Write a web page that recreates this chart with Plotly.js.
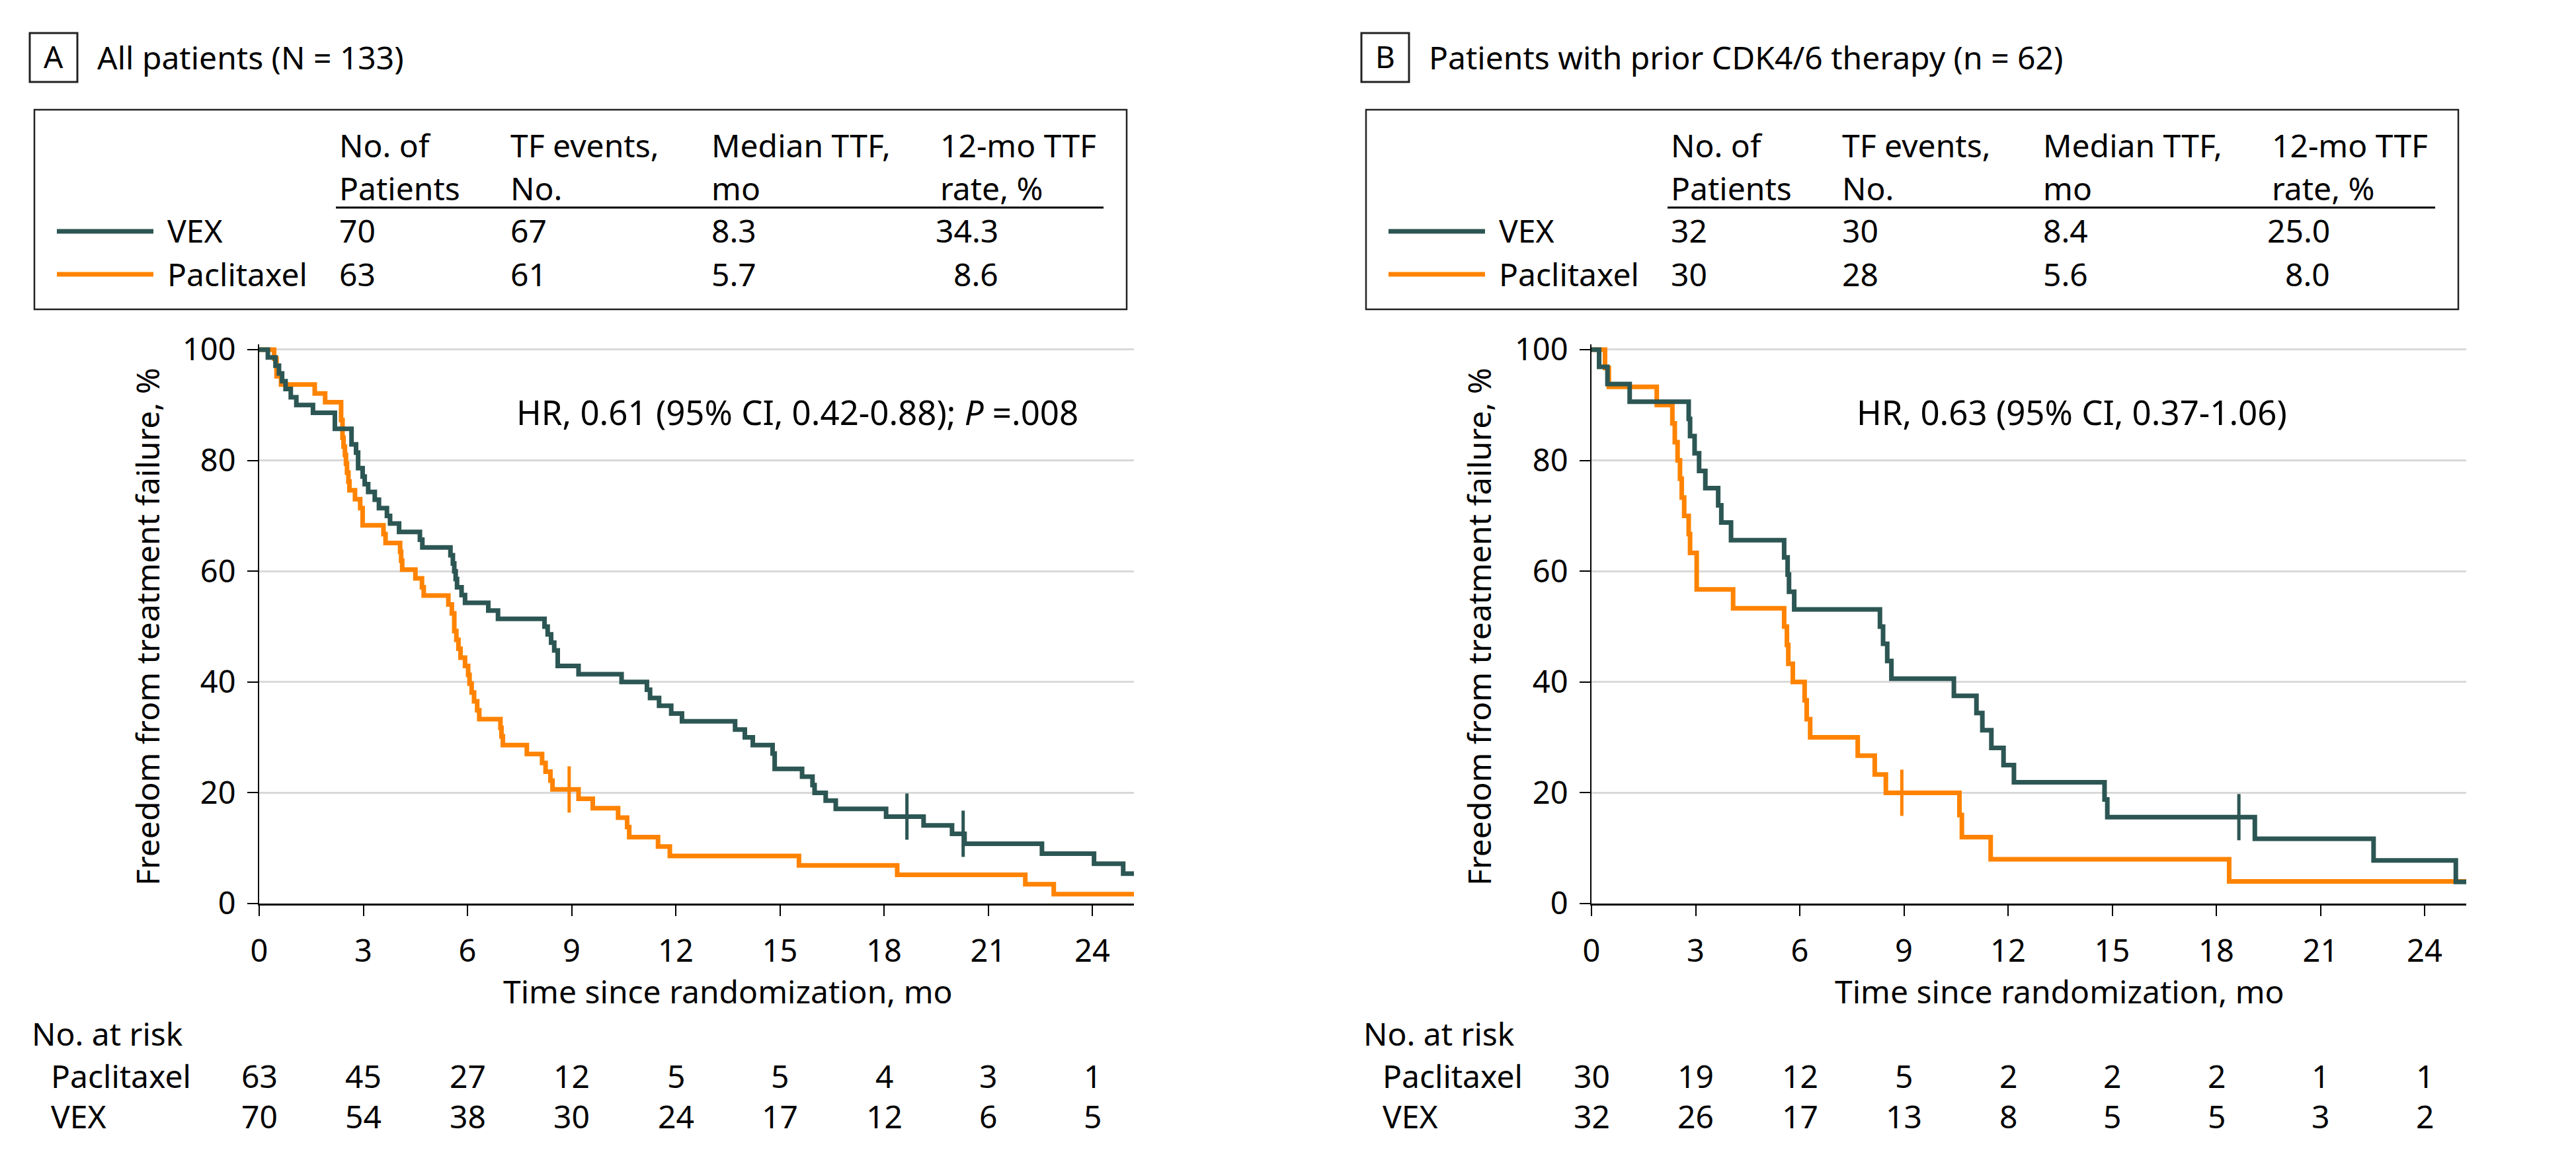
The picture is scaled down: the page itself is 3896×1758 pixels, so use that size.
<!DOCTYPE html>
<html>
<head>
<meta charset="utf-8">
<script src="https://cdn.plot.ly/plotly-3.0.1.min.js"></script>
<style>html,body{margin:0;padding:0;background:#fff;}#chart{width:3896px;height:1758px;}</style>
</head>
<body>
<div id="chart"></div>
<script>
// ---------- data ----------
const monthTicks = [0, 3, 6, 9, 12, 15, 18, 21, 24];
const percentTicks = [0, 20, 40, 60, 80, 100];

// Panel A: all patients
const tA_vex = [0,0.25,0.47,0.57,0.66,0.76,0.91,1.07,1.55,2.18,2.66,2.79,2.85,2.98,3.04,3.14,3.33,3.45,3.68,3.77,4.03,4.63,4.70,5.51,5.58,5.62,5.66,5.70,5.83,5.93,6.60,6.88,8.22,8.31,8.41,8.50,8.60,9.20,10.44,11.17,11.26,11.52,11.87,12.18,13.71,13.99,14.22,14.79,14.85,15.64,15.94,16.00,16.32,16.61,18.06,19.14,19.96,20.32,22.55,24.05,24.89,25.2];
const sA_vex = [100,98.6,97.1,95.7,94.3,92.9,91.4,90.0,88.6,85.7,82.9,81.4,78.6,77.1,75.7,74.3,72.9,71.4,70.0,68.6,67.1,65.7,64.3,62.9,61.4,60.0,58.6,57.1,55.7,54.3,52.9,51.4,50.0,48.6,47.1,45.7,42.9,41.4,40.0,38.6,37.1,35.7,34.3,32.9,31.4,30.0,28.6,27.1,24.3,22.9,21.4,20.0,18.6,17.1,15.7,14.1,12.6,10.8,9.0,7.2,5.4,5.4];
const cA_vex_t = [18.66, 20.28];
const cA_vex_s = [15.7, 12.6];

const tA_pac = [0,0.43,0.50,0.63,1.60,1.90,2.36,2.40,2.43,2.47,2.50,2.53,2.57,2.60,2.76,2.91,2.98,3.58,3.64,4.06,4.09,4.12,4.50,4.69,4.74,5.45,5.55,5.62,5.68,5.74,5.80,5.93,6.02,6.06,6.12,6.19,6.28,6.34,6.95,6.98,7.02,7.71,8.15,8.25,8.39,8.45,9.20,9.61,10.34,10.60,10.66,11.49,11.83,15.55,18.38,22.07,22.89,25.2];
const sA_pac = [100,98.4,95.2,93.7,92.1,90.5,87.3,84.1,82.5,81.0,79.4,77.8,76.2,74.6,73.0,71.4,68.3,66.7,65.1,63.5,61.9,60.3,58.7,57.1,55.6,54.0,52.4,49.2,47.6,46.0,44.4,42.9,41.3,39.7,38.1,36.5,34.9,33.3,31.7,30.2,28.6,27.0,25.4,23.8,22.2,20.6,18.9,17.2,15.5,13.8,12.0,10.3,8.6,6.9,5.2,3.5,1.7,1.7];
const cA_pac_t = [8.93];
const cA_pac_s = [20.6];

// Panel B: prior CDK4/6 therapy
const tB_vex = [0,0.22,0.46,1.10,2.80,2.84,2.97,3.10,3.28,3.65,3.74,4.02,5.55,5.65,5.69,5.84,8.31,8.40,8.52,8.64,10.44,11.09,11.26,11.52,11.87,12.17,14.78,14.86,19.11,22.53,24.90,25.2];
const sB_vex = [100,96.9,93.8,90.6,87.5,84.4,81.3,78.1,75.0,71.9,68.8,65.6,62.5,59.4,56.3,53.1,50.0,46.9,43.8,40.6,37.5,34.4,31.3,28.1,25.0,21.9,18.8,15.6,11.7,7.8,3.9,3.9];
const cB_vex_t = [18.65];
const cB_vex_s = [15.6];

const tB_pac = [0,0.39,0.50,1.88,2.33,2.40,2.48,2.55,2.60,2.67,2.80,2.84,3.03,4.08,5.55,5.63,5.67,5.80,6.14,6.20,6.30,7.67,8.16,8.48,10.60,10.67,11.50,18.37,25.2];
const sB_pac = [100,96.7,93.3,90.0,86.7,83.3,80.0,76.7,73.3,70.0,66.7,63.3,56.7,53.3,50.0,46.7,43.3,40.0,36.7,33.3,30.0,26.7,23.3,20.0,16.0,12.0,8.0,4.0,4.0];
const cB_pac_t = [8.94];
const cB_pac_s = [20.0];

// Summary tables
const groups = ["VEX", "Paclitaxel"];
const headerLine1 = ["No. of", "TF events,", "Median TTF,", "12-mo TTF"];
const headerLine2 = ["Patients", "No.", "mo", "rate, %"];
const tableA_patients = [70, 63];
const tableA_events = [67, 61];
const tableA_median = ["8.3", "5.7"];
const tableA_rate12 = ["34.3", "8.6"];
const tableB_patients = [32, 30];
const tableB_events = [30, 28];
const tableB_median = ["8.4", "5.6"];
const tableB_rate12 = ["25.0", "8.0"];

// Numbers at risk
const riskA_pac = [63, 45, 27, 12, 5, 5, 4, 3, 1];
const riskA_vex = [70, 54, 38, 30, 24, 17, 12, 6, 5];
const riskB_pac = [30, 19, 12, 5, 2, 2, 2, 1, 1];
const riskB_vex = [32, 26, 17, 13, 8, 5, 5, 3, 2];

const titleA = "All patients (N = 133)";
const titleB = "Patients with prior CDK4/6 therapy (n = 62)";
const hrA = "HR, 0.61 (95% CI, 0.42-0.88); <i>P</i> =.008";
const hrB = "HR, 0.63 (95% CI, 0.37-1.06)";

// ---------- styling / layout helpers ----------
const W = 3896, H = 1758;
const FONT = "Noto Sans";
const C_VEX = "#2c5653";
const C_PAC = "#ff8300";
const px = x => x / W;
const py = y => 1 - y / H;

const annotations = [];
const shapes = [];
function txt(text, x, base, size, xanchor, extra) {
  const a = Object.assign({
    text: text, xref: "paper", yref: "paper",
    x: px(x), y: py(base - 0.388 * size),
    xanchor: xanchor || "left", yanchor: "middle",
    showarrow: false, font: {family: FONT, size: size, color: "#000"}
  }, extra || {});
  annotations.push(a);
}
function rect(x0, y0, x1, y1, w) {
  shapes.push({type: "rect", xref: "paper", yref: "paper", x0: px(x0), x1: px(x1), y0: py(y0), y1: py(y1),
    line: {color: "#222", width: w}, fillcolor: "rgba(0,0,0,0)"});
}
function hline(x0, x1, y, w, color) {
  shapes.push({type: "line", xref: "paper", yref: "paper", x0: px(x0), x1: px(x1), y0: py(y), y1: py(y),
    line: {color: color, width: w}});
}

function panel(off, letter, title, tbl, hr, hrX, riskPac, riskVex, xaxisName) {
  // letter box + title
  rect(45 + off, 50, 117 + off, 124, 3);
  txt(letter, 81 + off, 103, 46, "center");
  txt(title, 145 + off, 105, 48, "left");
  // table box
  rect(52 + off, 166, 1704 + off, 468, 2.5);
  const colX = [511, 770, 1074, 1420];
  for (let i = 0; i < 4; i++) {
    txt(headerLine1[i], colX[i] + off, 238, 48, "left");
    txt(headerLine2[i], colX[i] + off, 303, 48, "left");
  }
  hline(508 + off, 1669 + off, 314, 3, "#000");
  const rowBase = [367, 433];
  const lineY = [350, 415];
  const cols = [C_VEX, C_PAC];
  for (let r = 0; r < 2; r++) {
    hline(86 + off, 232 + off, lineY[r], 7, cols[r]);
    txt(groups[r], 251 + off, rowBase[r], 48, "left");
    txt(String(tbl.patients[r]), colX[0] + off, rowBase[r], 48, "left");
    txt(String(tbl.events[r]), colX[1] + off, rowBase[r], 48, "left");
    txt(tbl.median[r], colX[2] + off, rowBase[r], 48, "left");
    txt(tbl.rate[r], 1512 + off, rowBase[r], 48, "right");
  }
  // HR
  txt(hr, hrX, 643, 51, "left");
  // axis titles
  annotations.push({text: "Freedom from treatment failure, %", xref: "paper", yref: "paper",
    x: px(222 + off), y: py(948), xanchor: "center", yanchor: "middle", textangle: -90,
    showarrow: false, font: {family: FONT, size: 48, color: "#000"}});
  txt("Time since randomization, mo", 1101 + off, 1518, 48, "center");
  // at risk
  txt("No. at risk", 46 + off, 1582, 48, "left");
  txt("Paclitaxel", 75 + off, 1646, 48, "left");
  txt("VEX", 75 + off, 1707, 48, "left");
  for (let i = 0; i < monthTicks.length; i++) {
    [[riskPac, 1646], [riskVex, 1707]].forEach(([arr, base]) => {
      annotations.push({text: String(arr[i]), xref: xaxisName, yref: "paper", x: monthTicks[i],
        y: py(base - 0.388 * 48), xanchor: "center", yanchor: "middle", showarrow: false,
        font: {family: FONT, size: 48, color: "#000"}});
    });
  }
}

panel(0, "A", titleA, {patients: tableA_patients, events: tableA_events, median: tableA_median, rate: tableA_rate12},
  hrA, 779, riskA_pac, riskA_vex, "x");
panel(2014, "B", titleB, {patients: tableB_patients, events: tableB_events, median: tableB_median, rate: tableB_rate12},
  hrB, 2806, riskB_pac, riskB_vex, "x2");

function curve(t, s, color, xa, ya) {
  return {x: t, y: s, type: "scatter", mode: "lines", line: {shape: "hv", color: color, width: 7},
    xaxis: xa, yaxis: ya, hoverinfo: "skip"};
}
function censor(t, s, color, xa, ya) {
  return {x: t, y: s, type: "scatter", mode: "markers", xaxis: xa, yaxis: ya, hoverinfo: "skip",
    marker: {symbol: "line-ns", size: 50, color: color, line: {color: color, width: 5}}};
}

const data = [
  curve(tA_pac, sA_pac, C_PAC, "x", "y"),
  curve(tA_vex, sA_vex, C_VEX, "x", "y"),
  censor(cA_pac_t, cA_pac_s, C_PAC, "x", "y"),
  censor(cA_vex_t, cA_vex_s, C_VEX, "x", "y"),
  curve(tB_pac, sB_pac, C_PAC, "x2", "y2"),
  curve(tB_vex, sB_vex, C_VEX, "x2", "y2"),
  censor(cB_pac_t, cB_pac_s, C_PAC, "x2", "y2"),
  censor(cB_vex_t, cB_vex_s, C_VEX, "x2", "y2")
];

function xaxis(d0, d1, anchor) {
  return {domain: [px(d0), px(d1)], anchor: anchor, range: [0, 25.2], tickvals: monthTicks,
    ticktext: monthTicks.map(String), showgrid: false, zeroline: false, showline: true,
    linecolor: "#000", linewidth: 3, ticks: "outside", ticklen: 16, tickwidth: 2, tickcolor: "#000",
    ticklabelstandoff: 13, tickfont: {family: FONT, size: 47, color: "#000"}, fixedrange: true};
}
function yaxis(anchor) {
  return {domain: [py(1367), py(520.6)], anchor: anchor, range: [0, 101], tickvals: percentTicks,
    ticktext: percentTicks.map(String), showgrid: true, gridcolor: "#d9d9d9", gridwidth: 3,
    zeroline: false, showline: true, linecolor: "#000", linewidth: 2, ticks: "outside",
    ticklen: 16, tickwidth: 2, tickcolor: "#000", ticklabelstandoff: 8,
    tickfont: {family: FONT, size: 47, color: "#000"}, fixedrange: true};
}

const layout = {
  width: W, height: H, margin: {l: 0, r: 0, t: 0, b: 0}, showlegend: false,
  paper_bgcolor: "#fff", plot_bgcolor: "#fff", font: {family: FONT, color: "#000"},
  xaxis: xaxis(392, 1715, "y"), yaxis: yaxis("x"),
  xaxis2: xaxis(2407, 3730, "y2"), yaxis2: yaxis("x2"),
  annotations: annotations, shapes: shapes
};

Plotly.newPlot("chart", data, layout, {staticPlot: true, displayModeBar: false});
</script>
</body>
</html>
